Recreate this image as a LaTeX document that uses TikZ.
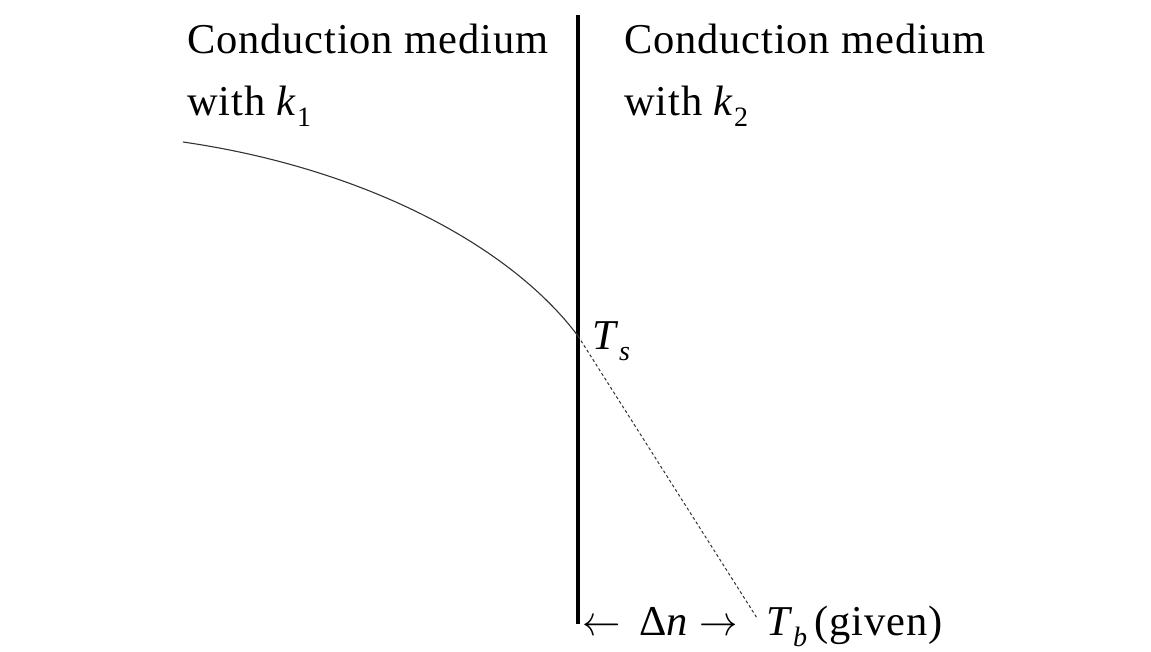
\documentclass[tikz,border=0pt]{standalone}
\usepackage{fix-cm}
\usepackage{fontspec}
\setmainfont{Liberation Serif}
\newfontfamily\lblfont[LetterSpace=2]{Liberation Serif}
\newcommand{\mysub}[1]{\raisebox{-0.27em}{\fontsize{28}{28}\selectfont #1}}
\newcommand{\myarrow}[1]{\scalebox{0.9}[1]{$#1$}}
\begin{document}
\begin{tikzpicture}[x=1pt,y=-1pt,
  lbl/.style={anchor=base west, inner sep=0pt, font=\fontsize{42.5}{60}\selectfont\lblfont},
  wall/.style={line width=4pt},
  profile/.style={line width=1.1pt, draw=black!80},
  extrap/.style={line width=1pt, draw=black!80, dash pattern=on 3pt off 2.5pt}]
\useasboundingbox (0,0) rectangle (1151,651);
% wall
\coordinate (wtop) at (578,15);
\coordinate (wbot) at (578,624);
\draw[wall] (wtop) -- (wbot);
% temperature profile
\coordinate (c0) at (183,142);
\coordinate (s) at (578,336);
\coordinate (b) at (757,618);
\draw[profile] (c0) .. controls (363,168) and (510,245) .. (s);
\draw[extrap] (s) -- (b);
% labels
\node[lbl] (m1a) at (187,53) {Conduction medium};
\node[lbl] (m1b) at (187,115) {with \textit{k}\mysub{1}};
\node[lbl] (m2a) at (624,53) {Conduction medium};
\node[lbl] (m2b) at (624,115) {with \textit{k}\mysub{2}};
\node[lbl] (ts) at (592,349) {\textit{T}\mysub{\textit{s}}};
\node[lbl] (dn) at (582,635) {\myarrow{\leftarrow}\hspace{0.45em}Δ\textit{n}\hspace{0.25em}\myarrow{\rightarrow}};
\node[lbl] (tb) at (766,635) {\textit{T}\mysub{\textit{b}}\,(given)};
\end{tikzpicture}
\end{document}
